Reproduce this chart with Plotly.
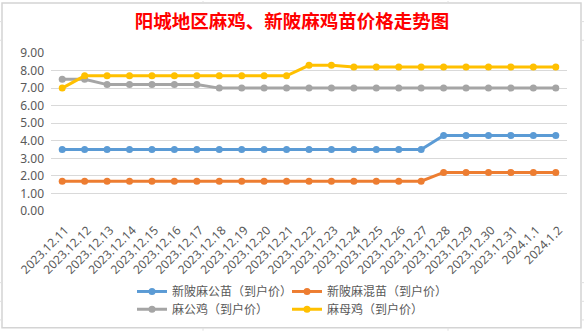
import plotly.graph_objects as go

# Daily prices (yuan) from 2023.12.11 to 2024.1.2
dates = [
    "2023.12.11", "2023.12.12", "2023.12.13", "2023.12.14", "2023.12.15",
    "2023.12.16", "2023.12.17", "2023.12.18", "2023.12.19", "2023.12.20",
    "2023.12.21", "2023.12.22", "2023.12.23", "2023.12.24", "2023.12.25",
    "2023.12.26", "2023.12.27", "2023.12.28", "2023.12.29", "2023.12.30",
    "2023.12.31", "2024.1.1", "2024.1.2",
]
xinpi_cock_chick = [3.5] * 17 + [4.3] * 6
xinpi_mixed_chick = [1.7] * 17 + [2.2] * 6
cock = [7.5, 7.5, 7.2, 7.2, 7.2, 7.2, 7.2] + [7.0] * 16
hen = [7.0] + [7.7] * 10 + [8.3, 8.3] + [8.2] * 10

series_names = [
    "新陂麻公苗（到户价）",
    "新陂麻混苗（到户价）",
    "麻公鸡（到户价）",
    "麻母鸡（到户价）",
]
series_values = [xinpi_cock_chick, xinpi_mixed_chick, cock, hen]
series_colors = ["#5B9BD5", "#ED7D31", "#A5A5A5", "#FFC000"]
legend_ids = ["legend", "legend", "legend2", "legend2"]
y_ticks = [0, 1, 2, 3, 4, 5, 6, 7, 8, 9]

W, H = 584, 336
L, R, T, B = 51, 17, 53, 122
PW, PH = W - L - R, H - T - B


def px_x(p):
    return (p - L) / PW


def px_y(p):
    return (H - B - p) / PH


fig = go.Figure()
for name, vals, col, lg in zip(series_names, series_values, series_colors, legend_ids):
    fig.add_trace(go.Scatter(
        x=dates, y=vals, name=name, mode="lines+markers",
        line=dict(color=col, width=3),
        marker=dict(color=col, size=7),
        legend=lg,
    ))

grid_col = "#D9D9D9"
shapes = []
# chart frame
shapes.append(dict(type="rect", xref="paper", yref="paper",
                   x0=px_x(2), x1=px_x(581), y0=px_y(333), y1=px_y(2),
                   line=dict(color="#D4D4D4", width=1.5), layer="below"))
# sheet cell lines peeking out around the frame
for yy in [21, 40, 287, 306, 325]:
    for xa, xb in [(0, 2), (581, 584)]:
        shapes.append(dict(type="line", xref="paper", yref="paper",
                           x0=px_x(xa), x1=px_x(xb), y0=px_y(yy), y1=px_y(yy),
                           line=dict(color="#E0E0E0", width=1), layer="below"))
for xx in [203, 448]:
    for ya, yb in [(0, 2), (333, 336)]:
        shapes.append(dict(type="line", xref="paper", yref="paper",
                           x0=px_x(xx), x1=px_x(xx), y0=px_y(ya), y1=px_y(yb),
                           line=dict(color="#E0E0E0", width=1), layer="below"))

tick_font = dict(family="Noto Sans, Noto Sans CJK SC", size=12, color="#595959")
legend_font = dict(family="Noto Sans CJK SC", size=12, color="#595959")

fig.update_layout(
    width=W, height=H,
    margin=dict(l=L, r=R, t=T, b=B),
    paper_bgcolor="white", plot_bgcolor="white",
    title=dict(
        text="阳城地区麻鸡、新陂麻鸡苗价格走势图",
        font=dict(family="Noto Sans CJK SC", size=18.5, color="#FF0000", weight="bold"),
        x=292 / W, xanchor="center", xref="container",
        y=1 - 22 / H, yanchor="middle", yref="container",
    ),
    xaxis=dict(
        type="category", range=[-0.5, len(dates) - 0.5],
        tickangle=-45, tickfont=tick_font,
        showgrid=False, showline=False, ticks="", zeroline=False,
        ticklabelstandoff=9, ticklabelshift=3,
    ),
    yaxis=dict(
        range=[0, 9], tickvals=y_ticks, tickformat=".2f",
        tickfont=tick_font, showgrid=True, gridcolor=grid_col, gridwidth=1,
        zeroline=False, showline=False, ticks="", ticklabelstandoff=6,
    ),
    legend=dict(
        orientation="h", x=px_x(132), xanchor="left", y=px_y(296), yanchor="middle",
        font=legend_font, itemwidth=30, entrywidth=110, entrywidthmode="pixels",
        bgcolor="rgba(0,0,0,0)", tracegroupgap=0,
    ),
    legend2=dict(
        orientation="h", x=px_x(132), xanchor="left", y=px_y(314), yanchor="middle",
        font=legend_font, itemwidth=30, entrywidth=110, entrywidthmode="pixels",
        bgcolor="rgba(0,0,0,0)", tracegroupgap=0,
    ),
    shapes=shapes,
    showlegend=True,
)

fig.write_html("out.html")
